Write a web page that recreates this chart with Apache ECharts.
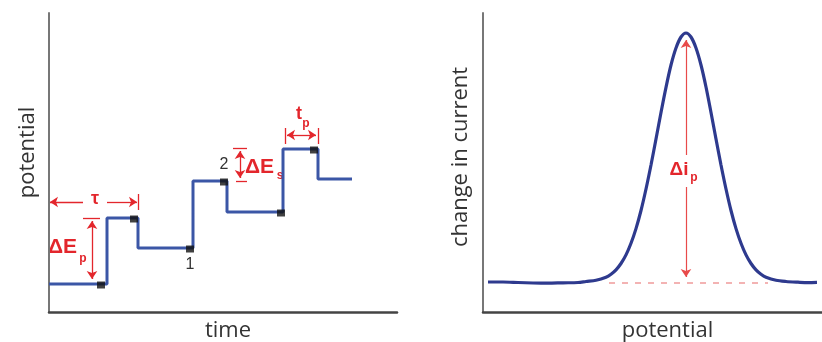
<!DOCTYPE html>
<html><head><meta charset="utf-8">
<script src="https://cdn.jsdelivr.net/npm/echarts@6/dist/echarts.min.js"></script>
<style>html,body{margin:0;padding:0;background:#fff}#c{width:822px;height:342px}</style>
</head><body><div id="c"></div>
<script>
// ---- Left panel: potential staircase vs time ----
const stepTimes   = [0, 58, 89, 144, 178, 234, 269, 303];
const stepLevels  = [28, 94, 64, 131, 100, 163, 133, 133];
const sampleTimes = [52, 85, 141, 175, 232, 265];
const sampleLevels = [28, 94, 64, 131, 100, 163];
const sampleNames = ['', '', '1', '2', '', ''];
// ---- Right panel: change in current vs potential ----
const potentialX = [5, 20, 35, 50, 65, 80, 95, 103, 113, 123, 128, 133, 138, 143, 148, 153, 158, 163, 168, 173, 178, 183, 188, 193, 198, 203, 208, 213, 218, 223, 228, 233, 238, 243, 248, 253, 258, 263, 268, 273, 278, 283, 293, 303, 315, 325, 334];
const currentY   = [30.0, 30.0, 29.5, 29.0, 28.8, 29.2, 29.5, 30.5, 31.7, 34.8, 37.8, 42.2, 48.5, 57.1, 68.7, 83.4, 101.5, 123, 147, 173, 199.5, 224.7, 247, 264, 275, 279, 275, 264, 247, 225, 199.5, 173, 147, 123, 101.5, 83.4, 68.7, 57.1, 48.5, 42.2, 37.8, 34.8, 31.7, 30.5, 29.8, 29.4, 29.6];
// axis titles
const xTitles = ['time', 'potential'];
const yTitles = ['potential', 'change in current'];

const RED = '#e3262c';
const chart = echarts.init(document.getElementById('c'));

function seg(a, b, s0, s1, style) {
  const p0 = {coord: a, symbol: s0 || 'none', symbolSize: 8};
  if (style) p0.lineStyle = style;
  return [p0, {coord: b, symbol: s1 || 'none', symbolSize: 8}];
}
const axisCommon = {
  axisTick: {show: false}, axisLabel: {show: false}, splitLine: {show: false},
  nameTextStyle: {fontFamily: 'Open Sans', fontSize: 22, color: '#333'}
};
function xAx(i, max, pad) {
  return Object.assign({}, axisCommon, {type: 'value', gridIndex: i, min: 0, max: max,
    name: xTitles[i], nameLocation: 'middle', nameGap: 8,
    nameTextStyle: Object.assign({}, axisCommon.nameTextStyle, {padding: [0, 0, 0, pad]}),
    axisLine: {show: true, lineStyle: {color: '#444', width: 2.5}}});
}
function yAx(i, pad, gap) {
  return Object.assign({}, axisCommon, {type: 'value', gridIndex: i, min: 0, max: 299,
    name: yTitles[i], nameLocation: 'middle', nameGap: gap,
    nameTextStyle: Object.assign({}, axisCommon.nameTextStyle, {padding: [0, 0, 0, pad]}),
    axisLine: {show: true, lineStyle: {color: '#777', width: 2}}});
}

const option = {
  animation: false,
  backgroundColor: '#fff',
  grid: [
    {left: 49, top: 13, width: 348, height: 299, containLabel: false, outerBoundsMode: 'none'},
    {left: 483, top: 13, width: 339, height: 299, containLabel: false, outerBoundsMode: 'none'}
  ],
  xAxis: [xAx(0, 348, 10), xAx(1, 339, 30)],
  yAxis: [yAx(0, 20, 10), yAx(1, 11, 11)],
  series: [
    {
      type: 'line', xAxisIndex: 0, yAxisIndex: 0, step: 'end', symbol: 'none',
      data: stepTimes.map((t, i) => [t, stepLevels[i]]),
      lineStyle: {color: '#3b56a6', width: 3},
      markLine: {
        silent: true, label: {show: false}, animation: false,
        lineStyle: {color: RED, width: 1.3, type: 'solid'},
        data: [
          seg([34, 110], [1, 110], 'none', 'arrow'),
          seg([58, 110], [88, 110], 'none', 'arrow'),
          seg([89, 118], [89, 102]),
          seg([34, 94], [51, 94]),
          seg([43, 91], [43, 33], 'arrow', 'arrow'),
          seg([184, 164], [198, 164]),
          seg([191, 161], [191, 134], 'arrow', 'arrow'),
          seg([187, 131], [198, 131]),
          seg([238, 177], [267, 177], 'arrow', 'arrow'),
          seg([236, 184], [236, 168]),
          seg([269, 184], [269, 168])
        ]
      }
    },
    {
      type: 'scatter', xAxisIndex: 0, yAxisIndex: 0, symbol: 'rect', symbolSize: [8, 7],
      symbolOffset: [0, 1], itemStyle: {color: '#111'},
      data: sampleTimes.map((t, i) => ({value: [t, sampleLevels[i]], name: sampleNames[i]})),
      z: 3
    },
    {
      type: 'line', xAxisIndex: 1, yAxisIndex: 1, smooth: 0.3, symbol: 'none',
      data: potentialX.map((x, i) => [x, currentY[i]]),
      lineStyle: {color: '#2e3a8e', width: 3.2},
      markLine: {
        silent: true, label: {show: false}, animation: false,
        lineStyle: {color: '#e84a4a', width: 1.2, type: 'solid'},
        data: [
          seg([126, 29], [285, 29], 'none', 'none', {color: '#f09a9a', type: [6, 7], width: 1.5}),
          seg([203, 157], [203, 272], 'none', 'arrow'),
          seg([203, 125], [203, 35], 'none', 'arrow')
        ]
      }
    }
  ]
};
chart.setOption(option);

// annotation texts, anchored in data coordinates of each panel
const notes = [
  {g: 0, p: [46, 113], t: 'τ', s: 18, w: 'bold', c: RED, a: 'center'},
  {g: 0, p: [-1, 65], t: 'ΔE', s: 21, w: 'bold', c: RED, a: 'left'},
  {g: 0, p: [34, 53], t: 'p', s: 12, w: 'bold', c: RED, a: 'center'},
  {g: 0, p: [141, 47], t: '1', s: 16, w: 'normal', c: '#333', a: 'center'},
  {g: 0, p: [175, 147], t: '2', s: 16, w: 'normal', c: '#333', a: 'center'},
  {g: 0, p: [196, 145], t: 'ΔE', s: 21, w: 'bold', c: RED, a: 'left'},
  {g: 0, p: [231, 136], t: 's', s: 12, w: 'bold', c: RED, a: 'center'},
  {g: 0, p: [250, 198], t: 't', s: 18, w: 'bold', c: RED, a: 'center'},
  {g: 0, p: [257, 188], t: 'p', s: 12, w: 'bold', c: RED, a: 'center'},
  {g: 1, p: [196, 142], t: 'Δi', s: 19, w: 'bold', c: RED, a: 'center'},
  {g: 1, p: [211, 134], t: 'p', s: 12, w: 'bold', c: RED, a: 'center'}
];
chart.setOption({
  graphic: notes.map(n => {
    const px = chart.convertToPixel({gridIndex: n.g}, n.p);
    return {type: 'text', x: px[0], y: px[1], silent: true,
      style: {text: n.t, fontFamily: 'Liberation Sans', fontSize: n.s, fontWeight: n.w,
        fill: n.c, textAlign: n.a, textVerticalAlign: 'middle'}};
  })
});
</script></body></html>
